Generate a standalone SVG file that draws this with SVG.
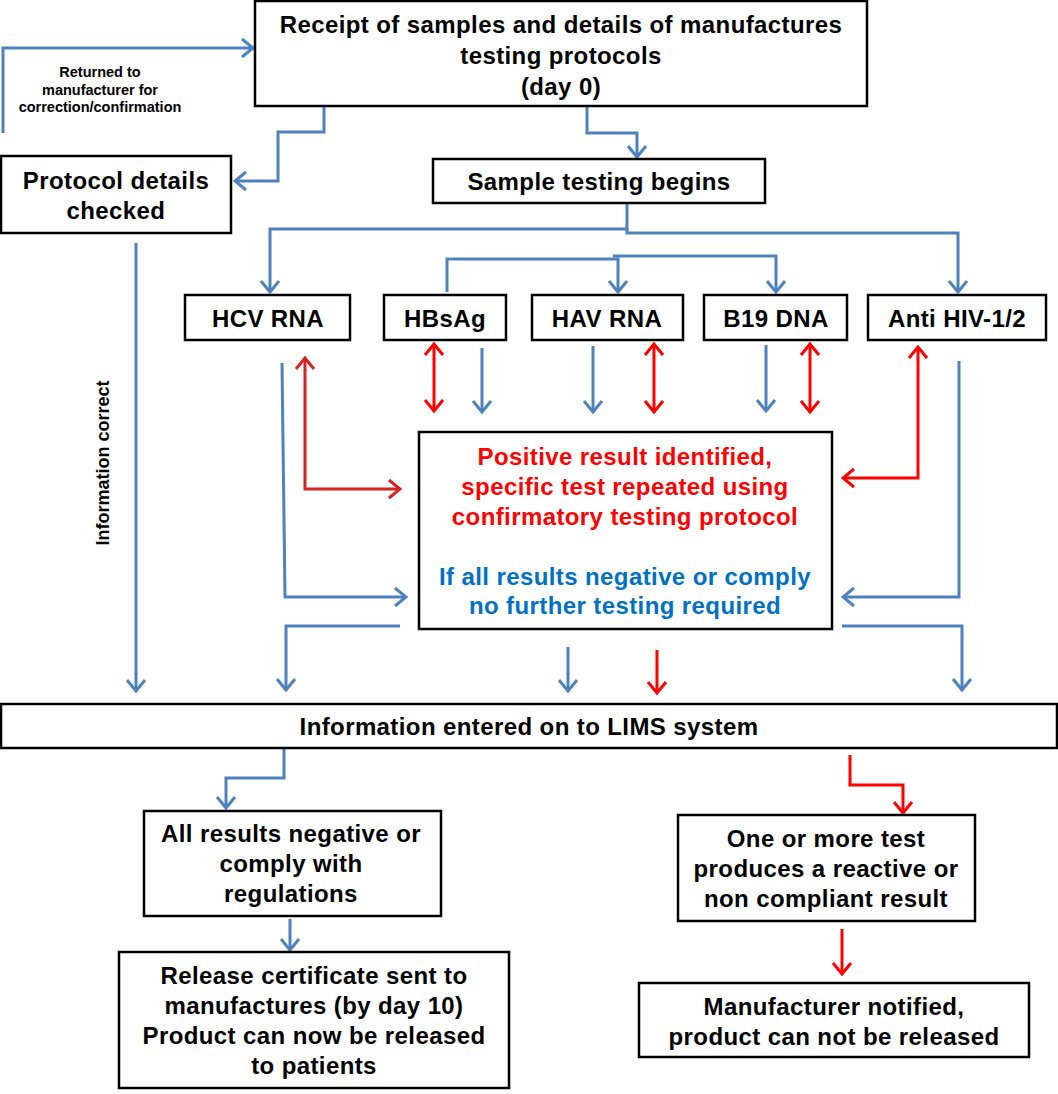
<svg xmlns="http://www.w3.org/2000/svg" width="1058" height="1094" viewBox="0 0 1058 1094">
<style>
.box{fill:#fff;stroke:#000;stroke-width:2.5}
.t{font-family:"Liberation Sans",Arial,sans-serif;font-weight:bold;font-size:24px;letter-spacing:0.4px;fill:#000;text-anchor:middle}
.s{font-family:"Liberation Sans",Arial,sans-serif;font-weight:bold;font-size:14.5px;fill:#000;text-anchor:middle}
.v{font-family:"Liberation Sans",Arial,sans-serif;font-weight:bold;font-size:18px;fill:#000;text-anchor:middle}
.red{fill:#FF0000}
.blu{fill:#0070C0}
.cb{fill:none;stroke:#4F81BD;stroke-width:3;marker-end:url(#ab)}
.cr{fill:none;stroke:#FF0000;stroke-width:3;marker-end:url(#ar)}
.cr2{fill:none;stroke:#FF0000;stroke-width:3;marker-end:url(#ar);marker-start:url(#ar)}
.cd{fill:none;stroke:#D42424;stroke-width:3;marker-end:url(#ad);marker-start:url(#ad)}
</style>
<defs>
<marker id="ab" markerUnits="userSpaceOnUse" viewBox="-13 -11 15 22" refX="0" refY="0" markerWidth="15" markerHeight="22" orient="auto-start-reverse"><path d="M-11,-9 L0,0 L-11,9" fill="none" stroke="#4F81BD" stroke-width="3"/></marker>
<marker id="ar" markerUnits="userSpaceOnUse" viewBox="-13 -11 15 22" refX="0" refY="0" markerWidth="15" markerHeight="22" orient="auto-start-reverse"><path d="M-11,-9 L0,0 L-11,9" fill="none" stroke="#FF0000" stroke-width="3"/></marker>
<marker id="ad" markerUnits="userSpaceOnUse" viewBox="-13 -11 15 22" refX="0" refY="0" markerWidth="15" markerHeight="22" orient="auto-start-reverse"><path d="M-11,-9 L0,0 L-11,9" fill="none" stroke="#D42424" stroke-width="3"/></marker>
</defs>
<rect width="1058" height="1094" fill="#fff"/>

<g id="connectors">
<path class="cb" d="M3,133 V48 H253"/>
<path class="cb" d="M324,107 V132 H278 V181 H235"/>
<path class="cb" d="M587,107 V133 H637 V157"/>
<path class="cb" d="M627,204 V229 H270 V292"/>
<path class="cb" d="M627,229 V233 H958 V292"/>
<path class="cb" d="M447,292 V259 H618 V292"/>
<path class="cb" d="M613,256 H776 V292"/>
<path class="cb" d="M282,363 L285,597 H406"/>
<path class="cd" d="M400,489 H305 V358"/>
<path class="cb" d="M400,626 H286 V690"/>
<path class="cr2" d="M434,344 V411"/>
<path class="cb" d="M482,348 V412"/>
<path class="cb" d="M593,346 V412"/>
<path class="cr2" d="M654,344 V412"/>
<path class="cb" d="M766,345 V411"/>
<path class="cr2" d="M810,344 V412"/>
<path class="cr2" d="M843,478 H918 V347"/>
<path class="cb" d="M959,361 V597 H843"/>
<path class="cb" d="M842,626 H962 V690"/>
<path class="cb" d="M568,647 V691"/>
<path class="cr" d="M657,650 V693"/>
<path class="cb" d="M136,243 V691"/>
<path class="cb" d="M284,749 V778 H226 V808"/>
<path class="cb" d="M290,919 V950"/>
<path class="cr" d="M850,755 V785 H903 V813"/>
<path class="cr" d="M842,929 V974"/>
</g>

<g id="receipt">
<rect class="box" x="255" y="1" width="612" height="105"/>
<text class="t" x="561" y="33">Receipt of samples and details of manufactures</text>
<text class="t" x="561" y="64">testing protocols</text>
<text class="t" x="561" y="95">(day 0)</text>
</g>
<g id="returned-label">
<text class="s" x="100" y="77">Returned to</text>
<text class="s" x="100" y="95">manufacturer for</text>
<text class="s" x="100" y="112">correction/confirmation</text>
</g>
<g id="protocol">
<rect class="box" x="1" y="156" width="230" height="77"/>
<text class="t" x="116" y="189">Protocol details</text>
<text class="t" x="116" y="219">checked</text>
</g>
<g id="sample">
<rect class="box" x="433" y="159" width="332" height="44"/>
<text class="t" x="599" y="190">Sample testing begins</text>
</g>
<g id="info-correct">
<text class="v" transform="translate(109,463) rotate(-90)">Information correct</text>
</g>
<g id="hcv">
<rect class="box" x="185" y="295" width="165" height="45"/>
<text class="t" x="268" y="327">HCV RNA</text>
</g>
<g id="hbsag">
<rect class="box" x="384" y="295" width="122" height="45"/>
<text class="t" x="445" y="327">HBsAg</text>
</g>
<g id="hav">
<rect class="box" x="532" y="295" width="151" height="45"/>
<text class="t" x="607" y="327">HAV RNA</text>
</g>
<g id="b19">
<rect class="box" x="704" y="295" width="143" height="45"/>
<text class="t" x="776" y="327">B19 DNA</text>
</g>
<g id="hiv">
<rect class="box" x="868" y="295" width="178" height="45"/>
<text class="t" x="957" y="327">Anti HIV-1/2</text>
</g>
<g id="result">
<rect class="box" x="419" y="432" width="413" height="197"/>
<text class="t red" x="625" y="465">Positive result identified,</text>
<text class="t red" x="625" y="495">specific test repeated using</text>
<text class="t red" x="625" y="525">confirmatory testing protocol</text>
<text class="t blu" x="625" y="585">If all results negative or comply</text>
<text class="t blu" x="625" y="614">no further testing required</text>
</g>
<g id="lims">
<rect class="box" x="1" y="704" width="1056" height="44"/>
<text class="t" x="529" y="735">Information entered on to LIMS system</text>
</g>
<g id="negative">
<rect class="box" x="144" y="811" width="297" height="105"/>
<text class="t" x="291" y="842">All results negative or</text>
<text class="t" x="291" y="872">comply with</text>
<text class="t" x="291" y="902">regulations</text>
</g>
<g id="release">
<rect class="box" x="119" y="952" width="390" height="136"/>
<text class="t" x="314" y="984">Release certificate sent to</text>
<text class="t" x="314" y="1014">manufactures (by day 10)</text>
<text class="t" x="314" y="1044">Product can now be released</text>
<text class="t" x="314" y="1074">to patients</text>
</g>
<g id="reactive">
<rect class="box" x="678" y="815" width="297" height="106"/>
<text class="t" x="826" y="847">One or more test</text>
<text class="t" x="826" y="877">produces a reactive or</text>
<text class="t" x="826" y="907">non compliant result</text>
</g>
<g id="notified">
<rect class="box" x="639" y="983" width="390" height="74"/>
<text class="t" x="834" y="1015">Manufacturer notified,</text>
<text class="t" x="834" y="1045">product can not be released</text>
</g>
</svg>
